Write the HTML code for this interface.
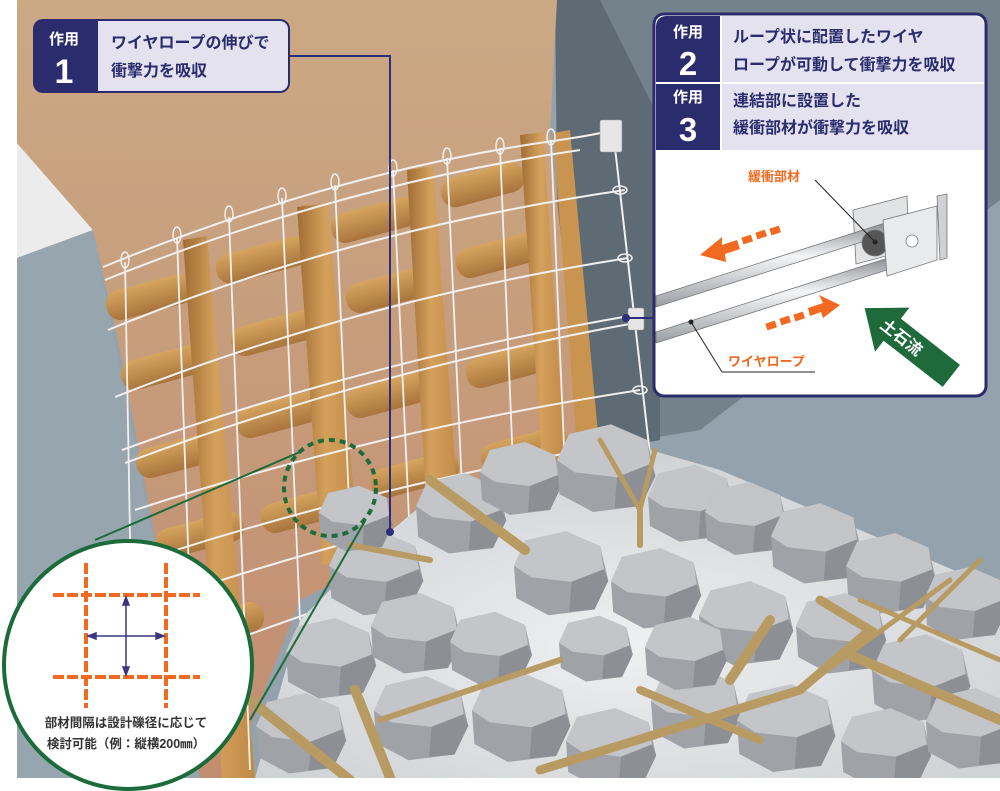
<!DOCTYPE html>
<html><head><meta charset="utf-8"><style>
html,body{margin:0;padding:0;background:#fff}
svg{display:block}
text{font-family:"Liberation Sans","Noto Sans CJK JP",sans-serif;font-weight:bold}
</style></head><body>
<svg width="1000" height="791" viewBox="0 0 1000 791" xmlns="http://www.w3.org/2000/svg">
<defs>
<linearGradient id="tan" x1="0" y1="0" x2="0" y2="1"><stop offset="0" stop-color="#cba985"/><stop offset="1" stop-color="#c18d70"/></linearGradient>
<linearGradient id="log" x1="0" y1="0" x2="1" y2="0"><stop offset="0" stop-color="#a06c34"/><stop offset="0.45" stop-color="#d4a05c"/><stop offset="1" stop-color="#c08a46"/></linearGradient>
<linearGradient id="hlog" x1="0" y1="0" x2="0" y2="1"><stop offset="0" stop-color="#d6a55f"/><stop offset="1" stop-color="#a8743c"/></linearGradient>
<radialGradient id="ground" cx="0.5" cy="0.6" r="0.6"><stop offset="0" stop-color="#eef0f1"/><stop offset="1" stop-color="#d0d3d6"/></radialGradient>
<linearGradient id="rod" x1="0" y1="0" x2="0" y2="1"><stop offset="0" stop-color="#8d9096"/><stop offset="0.4" stop-color="#f4f5f6"/><stop offset="1" stop-color="#9a9da2"/></linearGradient>
<g id="rk">
<path d="M-40,-8 L-30,-30 L5,-38 L35,-25 L42,5 L30,30 L-10,35 L-38,20 Z" fill="#9fa2a7"/>
<path d="M-40,-8 L-30,-30 L5,-38 L35,-25 L38,-5 L10,6 L-25,2 Z" fill="#c3c5c8"/>
<path d="M10,6 L38,-5 L42,5 L30,30 L8,32 Z" fill="#8c8f94"/>
</g>
</defs>
<rect x="17" y="0" width="983" height="778" fill="#93a2ac"/>
<polygon points="555,0 1000,0 1000,200 700,430 640,440 560,120" fill="#74828c"/>
<polygon points="555,0 600,0 660,120 660,440 560,460" fill="#5e6b75"/>
<polygon points="17,143 93,230 17,258" fill="#ececed"/>
<polygon points="17,258 93,230 200,778 17,778" fill="#97a5ae"/>
<polygon points="17,0 557,0 550,134 585,460 300,600 230,778 200,778 120,350 93,230 17,143" fill="url(#tan)"/>
<g fill="url(#hlog)">
<rect x="105" y="282" width="90" height="30" rx="14" transform="rotate(-15 150 297)"/>
<rect x="215" y="245" width="95" height="30" rx="14" transform="rotate(-15 262 260)"/>
<rect x="330" y="205" width="90" height="30" rx="14" transform="rotate(-15 375 220)"/>
<rect x="440" y="170" width="85" height="30" rx="14" transform="rotate(-15 482 185)"/>
<rect x="120" y="352" width="90" height="30" rx="14" transform="rotate(-15 165 367)"/>
<rect x="230" y="318" width="90" height="30" rx="14" transform="rotate(-15 275 333)"/>
<rect x="345" y="275" width="90" height="30" rx="14" transform="rotate(-15 390 290)"/>
<rect x="455" y="240" width="90" height="30" rx="14" transform="rotate(-15 500 255)"/>
<rect x="135" y="440" width="90" height="30" rx="14" transform="rotate(-15 180 455)"/>
<rect x="235" y="400" width="90" height="30" rx="14" transform="rotate(-15 280 415)"/>
<rect x="345" y="380" width="90" height="30" rx="14" transform="rotate(-15 390 395)"/>
<rect x="465" y="350" width="90" height="30" rx="14" transform="rotate(-15 510 365)"/>
<rect x="155" y="520" width="90" height="30" rx="14" transform="rotate(-15 200 535)"/>
<rect x="260" y="495" width="90" height="30" rx="14" transform="rotate(-15 305 510)"/>
<rect x="370" y="460" width="90" height="30" rx="14" transform="rotate(-15 415 475)"/>
<rect x="480" y="435" width="90" height="30" rx="14" transform="rotate(-15 525 450)"/>
<rect x="175" y="610" width="90" height="30" rx="14" transform="rotate(-15 220 625)"/>
</g>
<g>
<polygon points="183,240 207,236 255,778 222,778" fill="url(#log)"/>
<polygon points="297,207 327,203 360,560 322,565" fill="url(#log)"/>
<polygon points="407,170 433,166 460,530 428,535" fill="url(#log)"/>
<polygon points="520,135 543,132 565,460 542,465" fill="url(#log)"/>
<polygon points="553,133 570,130 600,455 578,460" fill="#c99350"/>
</g>
<g fill="none" stroke="#f0f0f0" stroke-width="2">
<path d="M103,267 Q340,170 560,140 Q600,134 612,130"/>
<path d="M105,280 Q340,185 580,150"/>
<path d="M108,330 Q350,230 625,190"/>
<path d="M115,397 Q360,300 628,258"/>
<path d="M122,450 Q370,360 635,315"/>
<path d="M125,463 Q375,370 635,323"/>
<path d="M135,510 Q380,430 640,390"/>
<path d="M145,560 Q390,480 645,440"/>
<path d="M160,600 Q400,520 620,480"/>
<path d="M180,660 Q420,570 580,530"/>
<path d="M613,130 L650,455"/>
</g>
<g fill="none" stroke="#f0f0f0" stroke-width="1.8">
<path d="M125,262 L133,700"/><path d="M177,237 L195,740"/><path d="M229,217 L250,770"/>
<path d="M282,198 L300,620"/><path d="M335,185 L352,570"/><path d="M393,170 L410,540"/>
<path d="M447,158 L463,510"/><path d="M500,148 L514,490"/><path d="M551,140 L565,470"/>
</g>
<g fill="none" stroke="#f0f0f0" stroke-width="1.5">
<ellipse cx="125" cy="260" rx="4" ry="8"/><ellipse cx="177" cy="235" rx="4" ry="8"/><ellipse cx="229" cy="214" rx="4" ry="8"/>
<ellipse cx="282" cy="196" rx="4" ry="8"/><ellipse cx="335" cy="182" rx="4" ry="8"/><ellipse cx="393" cy="168" rx="4" ry="8"/>
<ellipse cx="447" cy="156" rx="4" ry="8"/><ellipse cx="500" cy="146" rx="4" ry="8"/><ellipse cx="551" cy="137" rx="4" ry="8"/>
<ellipse cx="620" cy="190" rx="7" ry="4"/><ellipse cx="625" cy="258" rx="7" ry="4"/><ellipse cx="640" cy="390" rx="7" ry="4"/>
</g>
<g fill="#e6e6e6" stroke="#999" stroke-width="0.6">
<rect x="600" y="120" width="22" height="32" rx="2"/><rect x="628" y="308" width="16" height="22" rx="2"/>
</g>
<polygon points="255,778 300,620 380,540 440,490 560,462 650,450 720,470 1000,590 1000,778" fill="url(#ground)"/>
<g>
<use href="#rk" transform="translate(375,575) scale(1.15)"/>
<use href="#rk" transform="translate(460,515) scale(1.1)"/>
<use href="#rk" transform="translate(520,480) scale(1.0)"/>
<use href="#rk" transform="translate(605,470) scale(1.2)"/>
<use href="#rk" transform="translate(690,505) scale(1.05)"/>
<use href="#rk" transform="translate(745,520) scale(1.0)"/>
<use href="#rk" transform="translate(815,545) scale(1.1)"/>
<use href="#rk" transform="translate(890,575) scale(1.1)"/>
<use href="#rk" transform="translate(965,605) scale(1.0)"/>
<use href="#rk" transform="translate(560,575) scale(1.15)"/>
<use href="#rk" transform="translate(655,590) scale(1.1)"/>
<use href="#rk" transform="translate(415,635) scale(1.1)"/>
<use href="#rk" transform="translate(490,650) scale(1.0)"/>
<use href="#rk" transform="translate(745,625) scale(1.15)"/>
<use href="#rk" transform="translate(840,635) scale(1.1)"/>
<use href="#rk" transform="translate(920,680) scale(1.2)"/>
<use href="#rk" transform="translate(330,660) scale(1.1)"/>
<use href="#rk" transform="translate(300,735) scale(1.1)"/>
<use href="#rk" transform="translate(420,720) scale(1.15)"/>
<use href="#rk" transform="translate(520,720) scale(1.2)"/>
<use href="#rk" transform="translate(610,750) scale(1.1)"/>
<use href="#rk" transform="translate(695,710) scale(1.1)"/>
<use href="#rk" transform="translate(785,730) scale(1.2)"/>
<use href="#rk" transform="translate(885,750) scale(1.1)"/>
<use href="#rk" transform="translate(970,730) scale(1.1)"/>
<use href="#rk" transform="translate(685,655) scale(1.0)"/>
<use href="#rk" transform="translate(595,650) scale(0.9)"/>
<use href="#rk" transform="translate(355,520) scale(0.9)"/>
</g>
<g stroke="#b89a63" stroke-linecap="round" fill="none">
<path d="M430,480 L525,550" stroke-width="10"/>
<path d="M600,440 L640,510 L655,450" stroke-width="5"/>
<path d="M640,510 L640,545" stroke-width="6"/>
<path d="M350,545 L430,560" stroke-width="6"/>
<path d="M355,690 L395,790" stroke-width="10"/>
<path d="M540,770 L800,690 L870,630 L820,600" stroke-width="9"/>
<path d="M800,690 L950,580" stroke-width="5"/>
<path d="M850,655 L1000,720" stroke-width="10"/>
<path d="M640,690 L760,740" stroke-width="8"/>
<path d="M770,620 L730,680" stroke-width="10"/>
<path d="M380,720 L560,660" stroke-width="6"/>
<path d="M250,700 L350,780" stroke-width="10"/>
<path d="M860,600 L1000,660" stroke-width="5"/>
<path d="M900,640 L980,560" stroke-width="5"/>
</g>
<rect x="0" y="778" width="1000" height="13" fill="#fff"/>
<polyline points="290,56 390,56 390,532" fill="none" stroke="#2c2e7a" stroke-width="2"/>
<circle cx="390" cy="532" r="4" fill="#2c2e7a"/>
<line x1="626" y1="318" x2="656" y2="318" stroke="#2c2e7a" stroke-width="2"/>
<circle cx="626" cy="318" r="4" fill="#2c2e7a"/>
<rect x="33" y="19" width="257" height="74" rx="10" fill="#2b2c6e"/>
<path d="M98,21 H280 a8,8 0 0 1 8,8 V83 a8,8 0 0 1 -8,8 H98 Z" fill="#e3e2ee"/>
<text x="64" y="44" fill="#fff" font-size="15" text-anchor="middle">作用</text>
<text x="64" y="83" fill="#fff" font-size="34" text-anchor="middle" font-weight="normal">1</text>
<text x="111" y="48" fill="#2b2c6e" font-size="16">ワイヤロープの伸びで</text>
<text x="111" y="76" fill="#2b2c6e" font-size="16">衝撃力を吸収</text>
<rect x="654" y="14" width="332" height="382" rx="10" fill="#fff" stroke="#2b2c6e" stroke-width="3"/>
<path d="M656,26 a10,10 0 0 1 10,-10 H720 V150 H656 Z" fill="#2b2c6e"/>
<path d="M722,16 H974 a10,10 0 0 1 10,10 V150 H722 Z" fill="#e3e2ee"/>
<line x1="656" y1="83" x2="984" y2="83" stroke="#fff" stroke-width="2"/>
<line x1="721" y1="16" x2="721" y2="150" stroke="#fff" stroke-width="1"/>
<text x="688" y="37" fill="#fff" font-size="15" text-anchor="middle">作用</text>
<text x="688" y="75" fill="#fff" font-size="33" text-anchor="middle" font-weight="normal">2</text>
<text x="688" y="102" fill="#fff" font-size="15" text-anchor="middle">作用</text>
<text x="688" y="141" fill="#fff" font-size="33" text-anchor="middle" font-weight="normal">3</text>
<text x="733" y="42" fill="#2b2c6e" font-size="16">ループ状に配置したワイヤ</text>
<text x="733" y="70" fill="#2b2c6e" font-size="16">ロープが可動して衝撃力を吸収</text>
<text x="733" y="106" fill="#2b2c6e" font-size="16">連結部に設置した</text>
<text x="733" y="133" fill="#2b2c6e" font-size="16">緩衝部材が衝撃力を吸収</text>
<g stroke="#777" stroke-width="0.8">
<polygon points="853,210 907,196 909,250 856,264" fill="#e2e3e5"/>
<polygon points="656,296 885,223 887,234 656,307" fill="url(#rod)"/>
<circle cx="875" cy="243" r="13" fill="#555"/>
<polygon points="656,332 888,258 890,269 656,343" fill="url(#rod)"/>
<polygon points="937,196 947,194 947,258 940,260" fill="#cfd1d4"/>
<polygon points="883,220 937,206 937,260 887,276" fill="#e9eaec"/>
<circle cx="912" cy="241" r="6" fill="#fff"/>
</g>
<text x="748" y="181" fill="#ef6a1f" font-size="13">緩衝部材</text>
<line x1="815" y1="180" x2="875" y2="242" stroke="#222" stroke-width="1"/>
<circle cx="875" cy="242" r="2.5" fill="#222"/>
<line x1="691" y1="322" x2="722" y2="372" stroke="#222"/>
<line x1="722" y1="372" x2="815" y2="372" stroke="#222"/>
<circle cx="691" cy="322" r="2.5" fill="#222"/>
<text x="728" y="366" fill="#ef6a1f" font-size="13">ワイヤロープ</text>
<g fill="#f26a21">
<polygon points="700,255 722,237 722,245 737,240 740,249 725,254 726,262"/>
<rect x="742" y="236" width="10" height="7" transform="rotate(-18 747 239)"/>
<rect x="756" y="231" width="10" height="7" transform="rotate(-18 761 234)"/>
<rect x="770" y="227" width="10" height="7" transform="rotate(-18 775 230)"/>
<rect x="766" y="322" width="10" height="7" transform="rotate(-18 771 325)"/>
<rect x="780" y="317" width="10" height="7" transform="rotate(-18 785 320)"/>
<rect x="794" y="313" width="10" height="7" transform="rotate(-18 799 316)"/>
<polygon points="808,308 823,303 819,295 840,305 823,318 821,312 810,316"/>
</g>
<g transform="translate(908,342) rotate(38)">
<polygon points="-55,-14 20,-14 20,-28 55,0 20,28 20,14 -55,14" fill="#1f6a3b" transform="rotate(180)"/>
<text x="-8" y="6" fill="#fff" font-size="16" text-anchor="middle">土石流</text>
</g>
<ellipse cx="330" cy="488" rx="46" ry="48" fill="none" stroke="#1c6b3a" stroke-width="4" stroke-dasharray="6,5"/>
<line x1="300" y1="452" x2="95" y2="540" stroke="#1c6b3a" stroke-width="2"/>
<line x1="365" y1="521" x2="250" y2="720" stroke="#1c6b3a" stroke-width="2"/>
<circle cx="128" cy="665" r="124" fill="#fff" stroke="#1c6b3a" stroke-width="4"/>
<g stroke="#f26a21" stroke-width="4" stroke-dasharray="11,3">
<line x1="53" y1="595" x2="200" y2="595"/>
<line x1="53" y1="677" x2="200" y2="677"/>
<line x1="86" y1="563" x2="86" y2="708"/>
<line x1="166" y1="563" x2="166" y2="708"/>
</g>
<g stroke="#3a3780" stroke-width="1.5" fill="#3a3780">
<line x1="90" y1="636" x2="162" y2="636"/>
<line x1="126" y1="599" x2="126" y2="673"/>
<polygon points="88,636 96,633 96,639"/>
<polygon points="164,636 156,633 156,639"/>
<polygon points="126,597 123,605 129,605"/>
<polygon points="126,675 123,667 129,667"/>
</g>
<text x="126" y="727" fill="#333" font-size="12.5" text-anchor="middle" font-weight="normal">部材間隔は設計礫径に応じて</text>
<text x="126" y="748" fill="#333" font-size="12.5" text-anchor="middle" font-weight="normal">検討可能（例：縦横200㎜）</text>
</svg>
</body></html>
